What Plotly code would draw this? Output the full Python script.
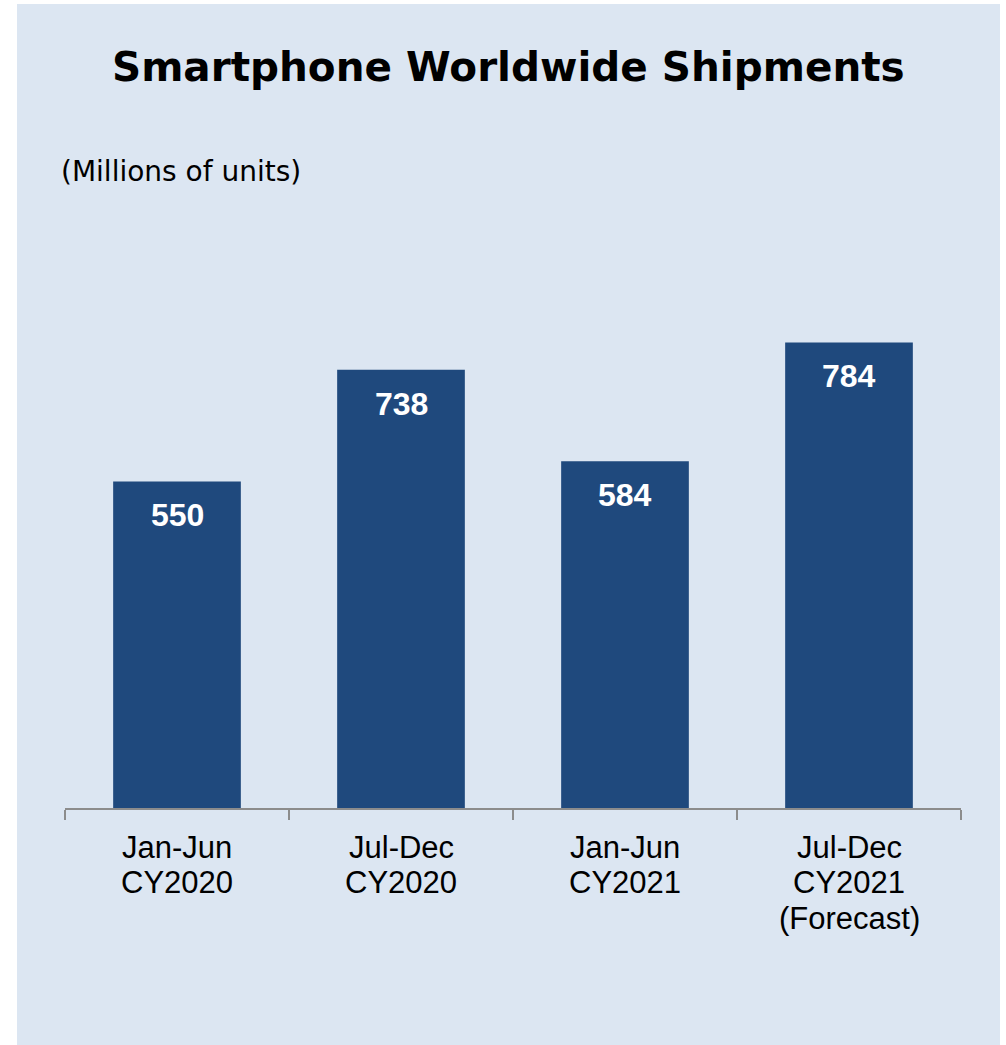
import plotly.graph_objects as go

categories = ["Jan-Jun<br>CY2020", "Jul-Dec<br>CY2020", "Jan-Jun<br>CY2021", "Jul-Dec<br>CY2021<br>(Forecast)"]
shipments = [550, 738, 584, 784]
title_text = "Smartphone Worldwide Shipments"
unit_text = "(Millions of units)"

W, H = 1006, 1045
ML, MR, MT, MB = 65, 45, 150, 237
PW, PH = W - ML - MR, H - MT - MB
BAR_COLOR = "#1f497d"
PANEL = "#dce6f2"
AXIS_GREY = "#8c8c8c"


def px_x(x):
    return (x - ML) / PW


def px_y(y):
    return 1 - (y - MT) / PH


fig = go.Figure()
fig.add_trace(go.Bar(
    x=categories, y=shipments,
    marker=dict(color=BAR_COLOR, line=dict(width=0)),
    hoverinfo="skip",
))

annotations = []
for c, v in zip(categories, shipments):
    annotations.append(dict(
        x=c, y=v, xref="x", yref="y", text=f"<b>{v}</b>", showarrow=False,
        yanchor="middle", yshift=-34,
        font=dict(family="Liberation Sans, Arial", size=32, color="white"),
    ))
    for i, line in enumerate(c.split("<br>")):
        annotations.append(dict(
            x=c, xref="x", yref="paper", y=px_y(847 + i * 35.5), text=line,
            showarrow=False, yanchor="middle",
            font=dict(family="Liberation Sans, Arial", size=31, color="black"),
        ))

annotations.append(dict(
    x=px_x(508), y=px_y(67), xref="paper", yref="paper", text=f"<b>{title_text}</b>",
    showarrow=False, xanchor="center", yanchor="middle",
    font=dict(family="DejaVu Sans", size=40.5, color="black"),
))
annotations.append(dict(
    x=px_x(59), y=px_y(171), xref="paper", yref="paper", text=unit_text,
    showarrow=False, xanchor="left", yanchor="middle",
    font=dict(family="DejaVu Sans", size=28, color="black"),
))

fig.update_layout(
    width=W, height=H,
    margin=dict(l=ML, r=MR, t=MT, b=MB, pad=0),
    paper_bgcolor="white",
    plot_bgcolor="rgba(0,0,0,0)",
    showlegend=False,
    bargap=0.43,
    annotations=annotations,
    shapes=[dict(
        type="rect", xref="paper", yref="paper", layer="below",
        x0=px_x(17), x1=px_x(1000), y0=px_y(1045), y1=px_y(4),
        fillcolor=PANEL, line=dict(width=0),
    )],
    xaxis=dict(
        type="category", range=[-0.5, 3.5], showgrid=False, zeroline=False,
        showline=True, linecolor=AXIS_GREY, linewidth=2,
        ticks="outside", tickson="boundaries", ticklen=10, tickwidth=2,
        tickcolor=AXIS_GREY, showticklabels=False,
    ),
    yaxis=dict(range=[0, 1108], visible=False, showgrid=False, zeroline=False),
)

fig.write_html("out.html")
